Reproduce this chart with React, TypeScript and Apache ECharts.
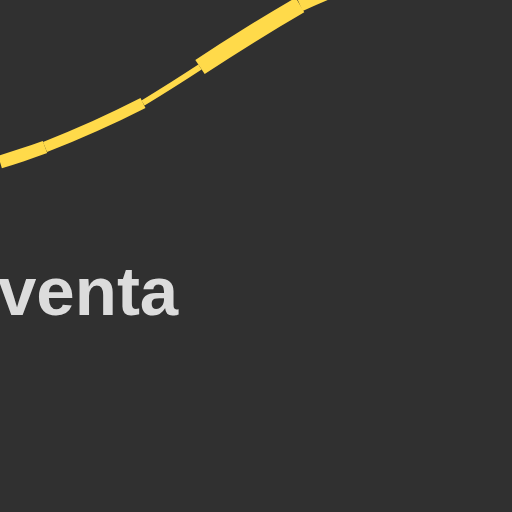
import React, { useEffect, useRef } from "react";
import * as echarts from "echarts";

const segA = [[0, 162], [22, 155], [45, 147]];
const segB = [[45, 147], [95, 126], [143, 103]];
const segC = [[143, 103], [172, 85], [200, 67]];
const segD = [[200, 67], [250, 35], [300, 5]];
const segE = [[300, 5], [330, -8], [360, -20]];
const segments = [
  { data: segA, width: 13 },
  { data: segB, width: 11 },
  { data: segC, width: 6 },
  { data: segD, width: 17 },
  { data: segE, width: 13 },
];
const label = "venta";

export default function App() {
  const ref = useRef<HTMLDivElement>(null);
  useEffect(() => {
    const chart = echarts.init(ref.current!, undefined, { renderer: "svg" });
    chart.setOption({
      animation: false,
      backgroundColor: "#303030",
      grid: { left: 0, right: 0, top: 0, bottom: 0 },
      xAxis: { type: "value", min: 0, max: 512, show: false },
      yAxis: { type: "value", min: 0, max: 512, inverse: true, show: false },
      series: segments.map((s) => ({
        type: "line",
        data: s.data,
        smooth: true,
        symbol: "none",
        lineStyle: { color: "#FFDA4A", width: s.width, cap: "butt" },
      })),
      graphic: [
        {
          type: "text",
          left: -2,
          top: 257,
          style: {
            text: label,
            fill: "#dcdcdc",
            font: "bold 69px 'Liberation Sans', Arial, sans-serif",
          },
        },
      ],
    });
    return () => chart.dispose();
  }, []);
  return <div ref={ref} style={{ width: 512, height: 512, position: "fixed", left: 0, top: 0 }} />;
}
